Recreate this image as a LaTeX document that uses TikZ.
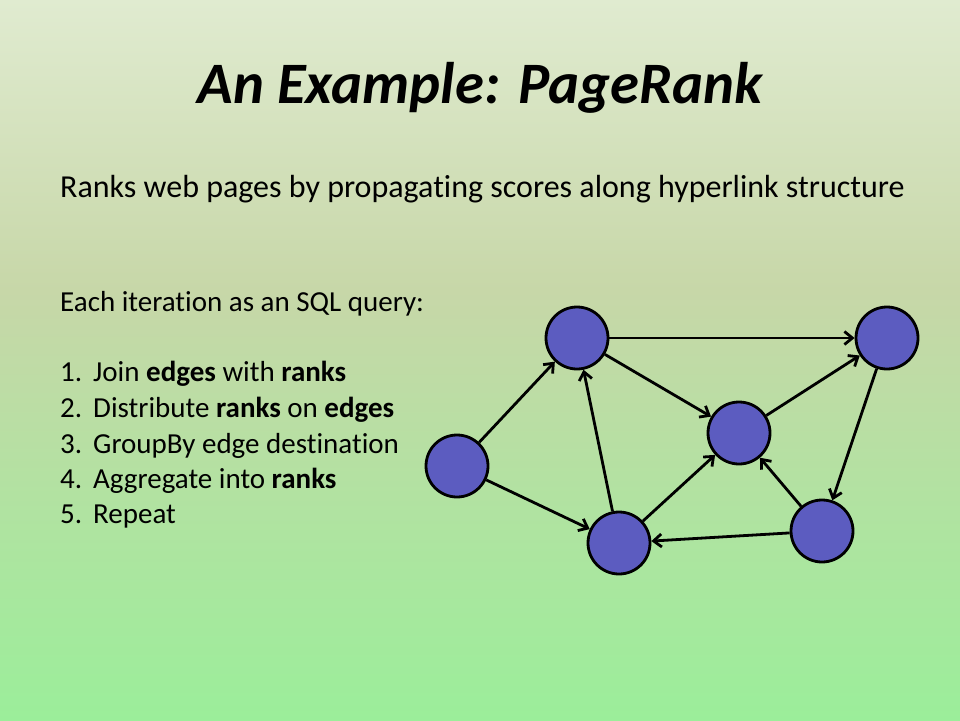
\documentclass[tikz,border=0pt]{standalone}
\usepackage{fontspec}
\setmainfont{Carlito}[Ligatures=NoCommon]
\usetikzlibrary{arrows.meta,positioning}
\definecolor{bgtop}{RGB}{224,235,208}
\definecolor{bgmid}{RGB}{199,215,168}
\definecolor{bgbot}{RGB}{155,238,154}
\definecolor{pagefill}{RGB}{92,92,192}

\begin{document}
\begin{tikzpicture}[x=1pt, y=-1pt,
    page/.style={draw, circle, line width=2.8pt, fill=pagefill, minimum size=62pt, inner sep=0pt},
    link/.style={line width=2.8pt, -{Straight Barb[length=8pt, width=13pt]}},
    item/.style={anchor=base west, inner sep=0pt, font=\fontsize{29}{34}\selectfont}
]
    % Background
    \shade[top color=bgtop, bottom color=bgmid] (0,0) rectangle (960,290);
    \shade[top color=bgmid, bottom color=bgbot] (0,290) rectangle (960,720);
    \useasboundingbox (0,0) rectangle (960,720);

    % Title and text
    \node [anchor=base, inner sep=0pt, font=\fontsize{58.7}{70}\selectfont\bfseries\itshape] (title) at (480,103) {An Example: PageRank};
    \node [anchor=base west, inner sep=0pt, font=\fontsize{32}{38}\selectfont] (subtitle) at (60,197) {Ranks web pages by propagating scores along hyperlink structure};
    \node [item] (intro) at (60,311.7) {Each iteration as an SQL query:};

    \foreach \i/\y/\what in {1/381.7/{Join \textbf{edges} with \textbf{ranks}}, 2/417.3/{Distribute \textbf{ranks} on \textbf{edges}}, 3/453/{GroupBy edge destination}, 4/488.3/{Aggregate into \textbf{ranks}}, 5/523.5/{Repeat}} {
        \node [item] (num\i) at (60,\y) {\i.};
        \node [item] (stepitem\i) at (93,\y) {\what};
    }

    % Graph
    \foreach \name/\x/\y in {pg1/457/466, pg2/577/338, pg3/887/338, pg4/739/433, pg5/619/543, pg6/822/531}
        \node [page] (\name) at (\x,\y) {};

    \foreach \from/\to in {pg1/pg2, pg1/pg5, pg5/pg2, pg2/pg3, pg2/pg4, pg5/pg4, pg4/pg3, pg3/pg6, pg6/pg4, pg6/pg5}
        \draw [link] (\from) -- (\to);
\end{tikzpicture}
\end{document}
